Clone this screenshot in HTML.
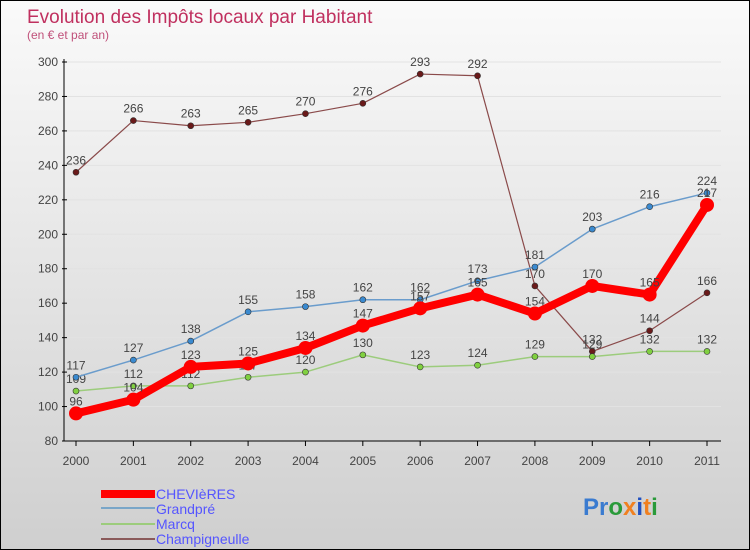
<!DOCTYPE html>
<html><head><meta charset="utf-8"><style>
body{margin:0}
#c{width:748px;height:548px;border:1px solid #000;background:linear-gradient(#fafafa,#cfcfcf);position:relative;overflow:hidden;font-family:"Liberation Sans",sans-serif}
</style></head><body>
<div id="c">
<svg id="s" width="748" height="548" xmlns="http://www.w3.org/2000/svg">
<text x="26" y="22" font-size="19" fill="#c0305f">Evolution des Impôts locaux par Habitant</text>
<text x="26" y="38" font-size="12" fill="#c0507a">(en € et par an)</text>
<g id="grid"></g><g id="axes"></g><g id="series"></g>
<g>
<rect x="100" y="489" width="54" height="8" fill="#f00"/>
<text x="155" y="498" font-size="14" fill="#5555ff">CHEVIèRES</text>
<rect x="100" y="506" width="54" height="2" fill="#7aa6c8"/>
<text x="155" y="513" font-size="14" fill="#5555ff">Grandpré</text>
<rect x="100" y="522" width="54" height="2" fill="#9ccc7c"/>
<text x="155" y="528" font-size="14" fill="#5555ff">Marcq</text>
<rect x="100" y="537" width="54" height="2" fill="#8a5a5a"/>
<text x="155" y="543" font-size="14" fill="#5555ff">Champigneulle</text>
</g>
<g font-size="24" font-weight="bold">
<text x="582" y="514"><tspan fill="#3a7bd0">Pr</tspan><tspan fill="#2a9a3a">o</tspan><tspan fill="#f08020">x</tspan><tspan fill="#2050c0">i</tspan><tspan fill="#f08020">t</tspan><tspan fill="#2a9a3a">i</tspan></text>
</g>
</svg></div>
<script>
const years=[2000,2001,2002,2003,2004,2005,2006,2007,2008,2009,2010,2011];
const chevieres=[96,104,123,125,134,147,157,165,154,170,165,217];
const grandpre=[117,127,138,155,158,162,162,173,181,203,216,224];
const marcq=[109,112,112,117,120,130,123,124,129,129,132,132];
const champigneulle=[236,266,263,265,270,276,293,292,170,132,144,166];
const yTicks=[80,100,120,140,160,180,200,220,240,260,280,300];
const NS="http://www.w3.org/2000/svg";
function x(i){return 75+i*(706-75)/11;}
function y(v){return 440-(v-80)*(440-61)/220;}
function mk(t,a,p){const e=document.createElementNS(NS,t);for(const k in a)e.setAttribute(k,a[k]);p.appendChild(e);return e;}
const grid=document.getElementById('grid'),axes=document.getElementById('axes'),ser=document.getElementById('series');
yTicks.forEach(v=>{
  const l=mk('line',{x1:64,x2:720,y1:y(v),y2:y(v),stroke:'#e2e2e2','stroke-width':1},grid);
  
  
  const t=mk('text',{x:57,y:y(v)+4,'font-size':12,fill:'#444','text-anchor':'end'},axes);
  t.textContent=v;
  
  
  mk('line',{x1:61,x2:66,y1:y(v),y2:y(v),stroke:'#000'},axes);
});
const ya=mk('line',{x1:63,x2:63,y1:58,y2:440,stroke:'#000'},axes);


const xa=mk('line',{x1:63,x2:720,y1:440,y2:440,stroke:'#000'},axes);


years.forEach((yr,i)=>{
  mk('line',{x1:x(i),x2:x(i),y1:440,y2:445,stroke:'#000'},axes);
  const t=mk('text',{x:x(i),y:464,'font-size':12,fill:'#444','text-anchor':'middle'},axes);
  t.textContent=yr;
  
  
});
function series(name,data,color,w,r,dot){
  const g=mk('g',{},ser);
  
  
  const p=mk('polyline',{points:data.map((v,i)=>x(i)+','+y(v)).join(' '),fill:'none',stroke:color,'stroke-width':w,'stroke-linejoin':'round'},g);
  
  
  data.forEach((v,i)=>{
    const c=mk('circle',{cx:x(i),cy:y(v),r:r,fill:dot,stroke:'#333','stroke-width':r>5?0:0.6},g);
    
    
    const t=mk('text',{x:x(i),y:y(v)-8,'font-size':12,fill:'#444','text-anchor':'middle'},g);
    t.textContent=v;
    
    
  });
}
series('champigneulle',champigneulle,'#8a4a4a',1.2,3,'#6a1a1a');
series('marcq',marcq,'#9ccc7c',1.5,3,'#80d040');
series('grandpre',grandpre,'#6a9ccc',1.5,3,'#3a8ad0');
series('chevieres',chevieres,'#f00',8,7,'#f00');
</script>
</body></html>
